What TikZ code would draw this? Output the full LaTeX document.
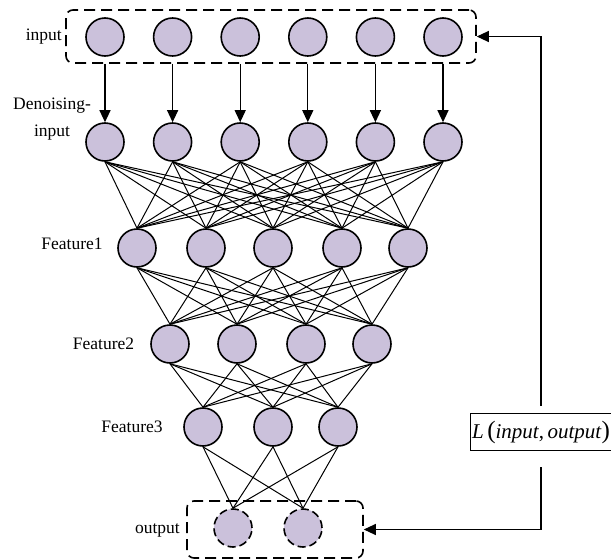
\documentclass[tikz,border=0pt]{standalone}
\usepackage{fontspec}
\setmainfont{Liberation Serif}
\usetikzlibrary{arrows.meta}
\definecolor{neuronfill}{HTML}{CBC1DB}
\begin{document}
\begin{tikzpicture}[x=1pt,y=-1pt,
  neuron/.style={circle,draw,line width=1.6pt,fill=neuronfill,minimum size=38pt,inner sep=0pt},
  outneuron/.style={neuron,dash pattern=on 8pt off 4pt},
  groupbox/.style={draw,line width=1.6pt,rounded corners=7pt,dash pattern=on 11pt off 6pt,inner sep=0pt},
  link/.style={line width=1pt},
  feed/.style={line width=1.2pt,-{Triangle[length=12pt,width=11pt]}},
  lbl/.style={font=\fontsize{17.5}{20}\selectfont,inner sep=0pt}]
\useasboundingbox (0,0) rectangle (611,560);

% input layer and its group box
\node[groupbox,minimum width=410pt,minimum height=53pt] (inbox) at (271,36.5) {};
\foreach \i in {1,...,6}
  \node[neuron] (in\i) at ({105+67.6*(\i-1)},37) {};

% denoising layer
\foreach \i in {1,...,6}
  \node[neuron] (d\i) at ({105+67.6*(\i-1)},142) {};

% hidden feature layers
\foreach \x [count=\i] in {137,206,273,342,408}
  \node[neuron] (fa\i) at (\x,248) {};
\foreach \x [count=\i] in {170,237,306,372}
  \node[neuron] (fb\i) at (\x,344) {};
\foreach \x [count=\i] in {203,273,338}
  \node[neuron] (fc\i) at (\x,427) {};

% output layer and its group box
\node[groupbox,minimum width=176pt,minimum height=57pt] (outbox) at (275,529.5) {};
\foreach \x [count=\i] in {233,303}
  \node[outneuron] (o\i) at (\x,528) {};

% corruption arrows
\foreach \i in {1,...,6}
  \draw[feed] (in\i.south |- inbox.south) -- (d\i.north);

% fully connected links
\foreach \a in {1,...,6}
  \foreach \b in {1,...,5}
    \draw[link] (d\a.south) -- (fa\b.north);
\foreach \a in {1,...,5}
  \foreach \b in {1,...,4}
    \draw[link] (fa\a.south) -- (fb\b.north);
\foreach \a in {1,...,4}
  \foreach \b in {1,...,3}
    \draw[link] (fb\a.south) -- (fc\b.north);
\foreach \a in {1,...,3}
  \foreach \b in {1,2}
    \draw[link] (fc\a.south) -- (o\b.north);

% layer labels
\node[lbl,anchor=east] (lin) at (62,37) {input};
\node[lbl,align=center,anchor=center] (lden) at (52,119) {Denoising-\\[7pt]input};
\node[lbl] (lf1) at (72,244) {Feature1};
\node[lbl] (lf2) at (103.5,344) {Feature2};
\node[lbl] (lf3) at (132,427) {Feature3};
\node[lbl,anchor=east] (lout) at (180,530) {output};

% reconstruction loss and feedback
\node[draw,line width=1pt,inner sep=0pt,minimum width=142pt,minimum height=37pt,
      font=\fontsize{21}{24}\selectfont] (L) at (541,432)
  {\textit{L}\,{\fontsize{25}{25}\selectfont(}\textit{input},\,\textit{output}{\fontsize{25}{25}\selectfont)}};
\coordinate (ftop) at (L.north |- inbox.east);
\coordinate (fbot) at (L.south |- outbox.east);
\draw[feed,shorten <=7pt] (L.north) -- (ftop) -- (inbox.east);
\draw[feed,shorten <=16pt] (L.south) -- (fbot) -- (outbox.east);
\end{tikzpicture}
\end{document}
